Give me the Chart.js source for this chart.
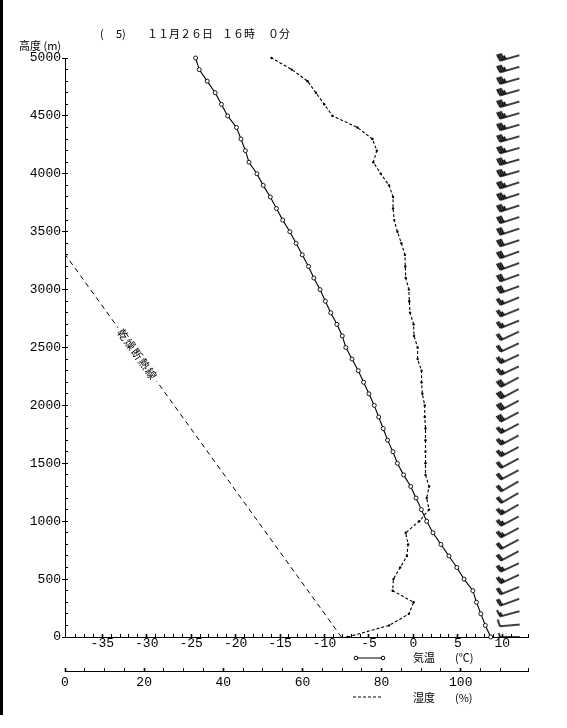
<!DOCTYPE html>
<html>
<head>
<meta charset="utf-8">
<script src="https://cdn.jsdelivr.net/npm/chart.js@4"></script>
<style>
  body { margin: 0; background: #fff; }
  canvas { display: block; }
</style>
</head>
<body>
<canvas id="chart" width="567" height="728"></canvas>
<script>
// altitude of each sounding level (m)
const heights = [
  0, 100, 200, 300, 400, 500, 600, 700, 800, 900,
  1000, 1100, 1200, 1300, 1400, 1500, 1600, 1700, 1800, 1900,
  2000, 2100, 2200, 2300, 2400, 2500, 2600, 2700, 2800, 2900,
  3000, 3100, 3200, 3300, 3400, 3500, 3600, 3700, 3800, 3900,
  4000, 4100, 4200, 4300, 4400, 4500, 4600, 4700, 4800, 4900,
  5000
];
// 気温 (℃)
const temperature = [
  8.7, 8.1, 7.6, 7.1, 6.7, 5.7, 4.9, 4.0, 3.1, 2.2,
  1.5, 0.9, 0.3, -0.3, -1.1, -1.8, -2.3, -2.9, -3.4, -3.9,
  -4.4, -5.0, -5.6, -6.2, -6.9, -7.6, -8.0, -8.6, -9.3, -9.9,
  -10.5, -11.2, -11.8, -12.5, -13.2, -13.9, -14.7, -15.4, -16.1, -16.9,
  -17.6, -18.5, -18.9, -19.4, -19.9, -20.9, -21.6, -22.3, -23.2, -24.1,
  -24.5
];
// 湿度 (%)
const humidity = [
  71.4, 81.9, 86.9, 88.1, 82.8, 83.0, 84.7, 86.4, 86.7, 86.1,
  89.5, 92.0, 91.4, 92.0, 91.1, 91.1, 91.1, 91.1, 91.1, 90.9,
  90.9, 90.3, 90.1, 90.1, 89.1, 89.1, 88.2, 88.1, 87.2, 87.0,
  86.9, 86.1, 86.0, 85.9, 85.0, 84.0, 83.2, 82.9, 82.9, 81.9,
  79.8, 77.9, 78.8, 77.7, 73.9, 67.6, 65.5, 63.4, 61.3, 57.3,
  52.2
];
// wind barbs: speed (10 per full barb) and shaft tilt (deg)
const windSpeed = [
  5, 10, 15, 20, 20, 25, 25, 20, 20, 25,
  25, 25, 20, 20, 20, 20, 25, 25, 25, 30,
  30, 30, 30, 25, 25, 20, 20, 25, 25, 25,
  30, 30, 30, 30, 30, 30, 30, 35, 35, 35,
  35, 35, 35, 35, 35, 35, 35, 35, 35, 35,
  35
];
const windTilt = [
  0, 5, 15, 20, 22, 25, 25, 28, 28, 28,
  28, 30, 30, 30, 28, 28, 28, 28, 28, 28,
  28, 28, 28, 25, 25, 25, 25, 22, 22, 22,
  20, 20, 20, 20, 18, 18, 18, 18, 18, 18,
  16, 16, 16, 16, 16, 16, 16, 16, 16, 16,
  16
];
// 乾燥断熱線
const dryAdiabatTemp = [-8.1, -40.0];
const dryAdiabatHeight = [0, 3390];

const tempLabels = [-35, -30, -25, -20, -15, -10, -5, 0, 5, 10];
const humidityLabels = [0, 20, 40, 60, 80, 100];
const heightLabels = [0, 500, 1000, 1500, 2000, 2500, 3000, 3500, 4000, 4500, 5000];

const MONO = '"Liberation Mono", monospace';
const CJK = '"Noto Sans CJK JP", sans-serif';
const BARB_X = 10.85;

const barbCache = {};
function barbImage(speed) {
  if (barbCache[speed]) return barbCache[speed];
  const c = document.createElement('canvas');
  c.width = 30; c.height = 30;
  const g = c.getContext('2d');
  g.strokeStyle = '#000';
  g.lineWidth = 1.5;
  const cy = 15, x0 = 5, x1 = 25;
  g.beginPath();
  g.moveTo(x0, cy); g.lineTo(x1, cy);
  g.stroke();
  g.lineWidth = 1.6;
  g.beginPath();
  let x = x0;
  for (let i = 0; i < Math.floor(speed / 10); i++) {
    g.moveTo(x, cy); g.lineTo(x - 1.5, cy - 7);
    x += 2;
  }
  if (speed % 10 >= 5) { g.moveTo(x, cy); g.lineTo(x - 1, cy - 4); }
  g.stroke();
  barbCache[speed] = c;
  return c;
}

const isWhole = v => Math.abs(v - Math.round(v)) < 1e-6;

const decor = {
  id: 'decor',
  beforeDraw(chart) {
    const g = chart.ctx;
    g.save();
    g.fillStyle = '#fff';
    g.fillRect(0, 0, chart.width, chart.height);
    g.fillStyle = '#000';
    g.fillRect(0, 0, 3, 715);
    g.restore();
  },
  afterDatasetsDraw(chart) {
    // label along the dry adiabat
    const { x, y } = chart.scales;
    const ax = x.getPixelForValue(dryAdiabatTemp[0]), ay = y.getPixelForValue(dryAdiabatHeight[0]);
    const bx = x.getPixelForValue(dryAdiabatTemp[1]), by = y.getPixelForValue(dryAdiabatHeight[1]);
    const f = 2440 / dryAdiabatHeight[1];
    const cx = ax + (bx - ax) * f, cy = ay + (by - ay) * f;
    const g = chart.ctx;
    g.save();
    g.translate(cx, cy);
    g.rotate(Math.atan2(ay - by, ax - bx));
    g.font = '11px ' + CJK;
    g.letterSpacing = '1px';
    const w = g.measureText('乾燥断熱線').width;
    g.fillStyle = '#fff';
    g.fillRect(-w / 2 - 3, -7, w + 6, 14);
    g.fillStyle = '#000';
    g.textAlign = 'center';
    g.textBaseline = 'middle';
    g.fillText('乾燥断熱線', 0, 0);
    g.restore();
  },
  afterDraw(chart) {
    const g = chart.ctx;
    g.save();
    g.fillStyle = '#000';
    g.strokeStyle = '#000';
    g.textBaseline = 'middle';
    g.font = '11px ' + CJK;
    g.fillText('(', 100, 34);
    g.fillText('5)', 116, 34);
    g.fillText('１１月２６日', 147, 34);
    g.fillText('１６時', 222, 34);
    g.fillText('０分', 268, 34);
    g.fillText('高度 (m)', 19, 46);

    // legend rows
    g.fillText('気温', 413, 658);
    g.fillText('(℃)', 455, 658);
    g.fillText('湿度', 413, 698);
    g.fillText('(%)', 455, 698);
    g.lineWidth = 1;
    g.beginPath(); g.moveTo(356, 658); g.lineTo(383, 658); g.stroke();
    g.fillStyle = '#fff';
    [356, 383].forEach(px => { g.beginPath(); g.arc(px, 658, 1.8, 0, Math.PI * 2); g.fill(); g.stroke(); });
    g.setLineDash([3, 2]);
    g.beginPath(); g.moveTo(353, 697); g.lineTo(383, 697); g.stroke();
    g.restore();
  }
};

const ctx = document.getElementById('chart').getContext('2d');
new Chart(ctx, {
  type: 'scatter',
  data: {
    datasets: [
      {
        label: '気温',
        data: heights.map((h, i) => ({ x: temperature[i], y: h })),
        showLine: true,
        borderColor: '#000',
        borderWidth: 1.1,
        pointRadius: 2,
        pointBackgroundColor: '#fff',
        pointBorderColor: '#000',
        pointBorderWidth: 0.9,
        clip: 6
      },
      {
        label: '湿度',
        xAxisID: 'x2',
        data: heights.map((h, i) => ({ x: humidity[i], y: h })),
        showLine: true,
        borderColor: '#000',
        borderWidth: 1.1,
        borderDash: [3, 2],
        pointRadius: 1.2,
        pointBackgroundColor: '#000',
        pointBorderWidth: 0,
        clip: 6
      },
      {
        label: '乾燥断熱線',
        data: dryAdiabatTemp.map((t, i) => ({ x: t, y: dryAdiabatHeight[i] })),
        showLine: true,
        borderColor: '#000',
        borderWidth: 1,
        borderDash: [5, 4],
        pointRadius: 0
      },
      {
        label: 'wind',
        data: heights.map(h => ({ x: BARB_X, y: h })),
        showLine: false,
        pointRadius: 10,
        pointStyle: c => barbImage(windSpeed[c.dataIndex]),
        rotation: c => -windTilt[c.dataIndex],
        clip: false
      }
    ]
  },
  options: {
    responsive: false,
    animation: false,
    events: [],
    layout: { padding: { left: 0, right: 39, top: 58, bottom: 37 } },
    plugins: { legend: { display: false }, tooltip: { enabled: false } },
    scales: {
      x: {
        type: 'linear', position: 'bottom', weight: 0,
        min: -39.2, max: 12.9,
        afterFit: s => { s.height = 34; },
        border: { display: true, color: '#000', width: 1 },
        grid: {
          drawOnChartArea: false, drawTicks: true, tickLength: -3, tickColor: '#000',
          tickWidth: c => (isWhole(c.tick.value) && Math.round(c.tick.value) % 5 === 0 ? 1.6 : 1)
        },
        ticks: {
          stepSize: 1, autoSkip: false, maxRotation: 0, padding: 2, color: '#000',
          font: { family: MONO, size: 13 },
          callback: v => (isWhole(v) && tempLabels.includes(Math.round(v)) ? String(Math.round(v)) : '')
        }
      },
      x2: {
        type: 'linear', position: 'bottom', weight: 1,
        min: 0, max: 117,
        afterFit: s => { s.height = 20; },
        border: { display: true, color: '#000', width: 1 },
        grid: {
          drawOnChartArea: false, drawTicks: true, tickLength: -3, tickColor: '#000',
          tickWidth: c => (isWhole(c.tick.value) && Math.round(c.tick.value) % 20 === 0 ? 1.6 : 1)
        },
        ticks: {
          stepSize: 5, autoSkip: false, maxRotation: 0, padding: 7, color: '#000',
          font: { family: MONO, size: 13 },
          callback: v => (isWhole(v) && humidityLabels.includes(Math.round(v)) ? String(Math.round(v)) : '')
        }
      },
      y: {
        type: 'linear', position: 'left', weight: 1,
        min: 0, max: 5000,
        afterFit: s => { s.width = 65; },
        border: { display: true, color: '#000', width: 1 },
        grid: { drawOnChartArea: false, drawTicks: true, tickLength: 3, tickColor: '#000' },
        ticks: {
          stepSize: 500, autoSkip: false, padding: 1, color: '#000',
          font: { family: MONO, size: 13 },
          callback: v => (heightLabels.includes(v) ? String(v) : '')
        }
      },
      y2: {
        type: 'linear', position: 'left', weight: 0,
        min: 0, max: 5000,
        afterFit: s => { s.width = 0; },
        border: { display: false },
        grid: { drawOnChartArea: false, drawTicks: true, tickLength: -3, tickColor: '#000' },
        ticks: { stepSize: 100, autoSkip: false, padding: 0, callback: () => '' }
      }
    }
  },
  plugins: [decor]
});
</script>
</body>
</html>
